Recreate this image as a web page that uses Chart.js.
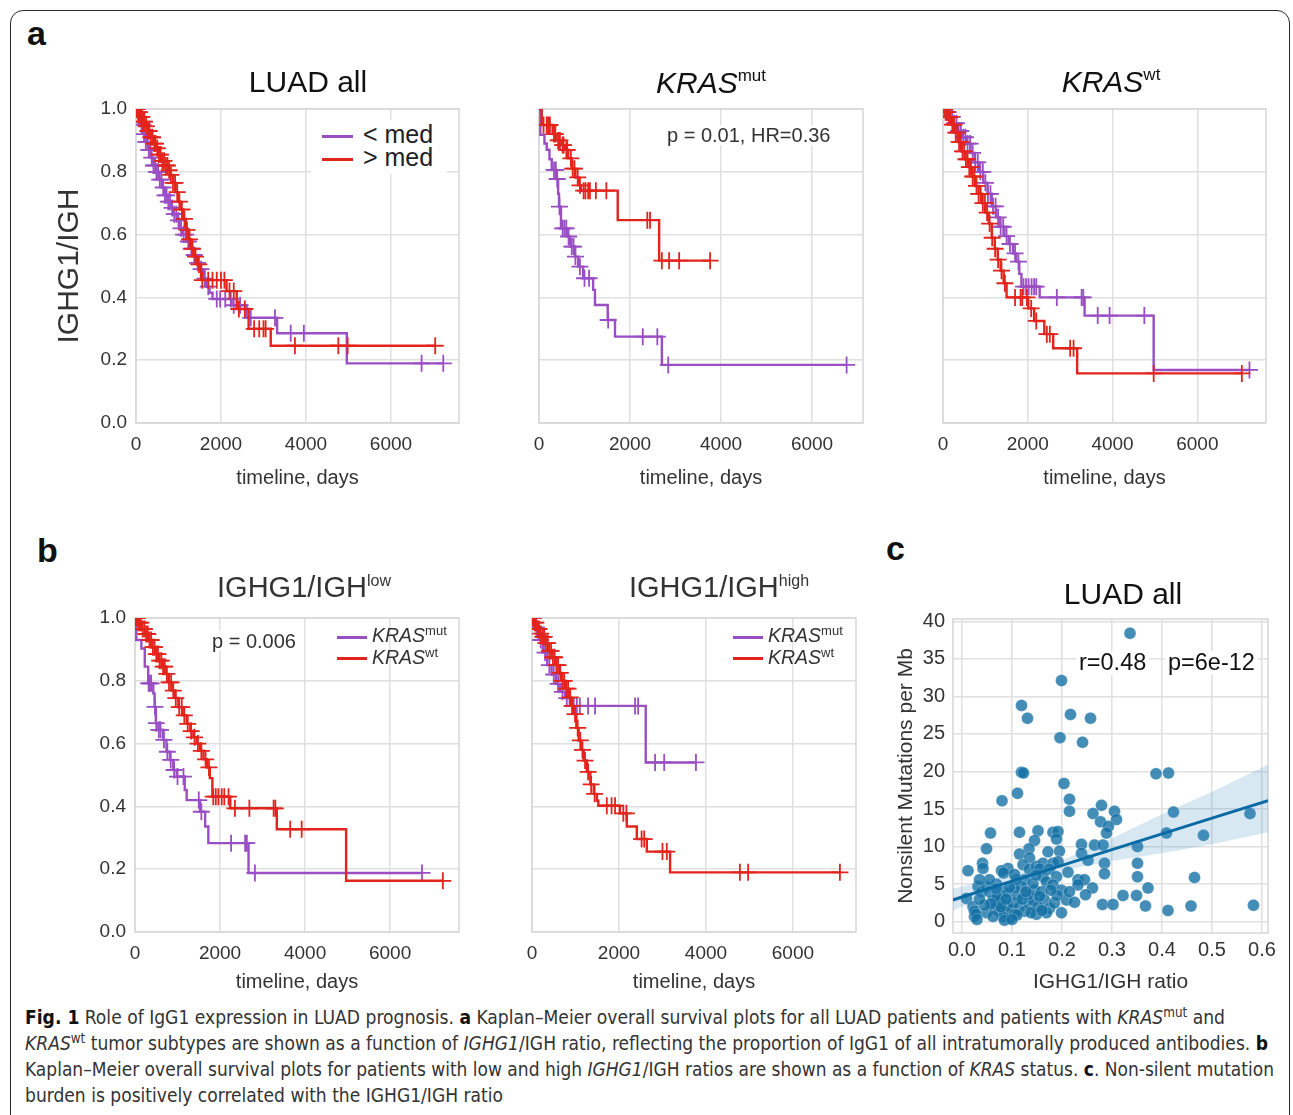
<!DOCTYPE html>
<html lang="en">
<head>
<meta charset="UTF-8" />
<title>Fig. 1 - IgG1 expression in LUAD prognosis</title>
<script src="https://cdn.jsdelivr.net/npm/chart.js"></script>
<style>
  body { margin: 0; background: #fff; }
  #fig { position: relative; width: 1293px; height: 1115px; overflow: hidden; font-family: "Liberation Sans", Arial, sans-serif; color: #222; }
  #fig canvas { position: absolute; }
  .frame { position: absolute; left: 10px; top: 10px; width: 1278px; height: 1200px; border: 1.5px solid #2a2a2a; border-radius: 13px; }
  .txt { position: absolute; white-space: nowrap; line-height: 1; }
  .ctr { transform: translateX(-50%); }
  .plabel { position: absolute; font-weight: bold; font-size: 34px; line-height: 1; color: #111; }
  .note { background: #fff; padding: 0 3px; color: #333; }
  .sw { position: absolute; height: 2.5px; }
  .cap { position: absolute; left: 25px; white-space: nowrap; font-family: "Liberation Sans Narrow", "DejaVu Sans Condensed", "Liberation Sans", sans-serif; font-size: 19px; line-height: 1; color: #333; transform-origin: 0 0; }
  .cap b { color: #111; }
  .cap sup { font-size: 0.7em; line-height: 0; vertical-align: 0.5em; }
</style>
</head>
<body>
<div id="fig">
  <div class="frame"></div>

  <div class="plabel" style="left:27px;top:16px">a</div>
  <div class="plabel" style="left:37px;top:533px">b</div>
  <div class="plabel" style="left:886px;top:531px">c</div>

  <canvas id="a1"></canvas>
  <canvas id="a2"></canvas>
  <canvas id="a3"></canvas>
  <canvas id="b1"></canvas>
  <canvas id="b2"></canvas>
  <canvas id="c1"></canvas>

  <!-- panel titles -->
  <div class="txt ctr" style="left:308px;top:67px;font-size:30px;color:#111">LUAD all</div>
  <div class="txt ctr" style="left:711px;top:68px;font-size:30px;color:#111"><i>KRAS</i><span style="font-size:17px;position:relative;top:-12px">mut</span></div>
  <div class="txt ctr" style="left:1111px;top:67px;font-size:30px;color:#111"><i>KRAS</i><span style="font-size:17px;position:relative;top:-12px">wt</span></div>
  <div class="txt ctr" style="left:304px;top:573px;font-size:29px;color:#333">IGHG1/IGH<span style="font-size:16px;position:relative;top:-11px">low</span></div>
  <div class="txt ctr" style="left:719px;top:573px;font-size:29px;color:#333">IGHG1/IGH<span style="font-size:16px;position:relative;top:-11px">high</span></div>
  <div class="txt ctr" style="left:1123px;top:579px;font-size:30px;color:#111">LUAD all</div>

  <!-- legends -->
  <div style="position:absolute;left:311px;top:120px;width:136px;height:54px;background:#fff"></div>
  <div class="sw" style="left:322px;top:135px;width:31px;background:#9a4ec4"></div>
  <div class="sw" style="left:322px;top:158px;width:31px;background:#e2241c"></div>
  <div class="txt" style="left:363px;top:122px;font-size:25px;color:#222">&lt; med</div>
  <div class="txt" style="left:363px;top:145px;font-size:25px;color:#222">&gt; med</div>

  <div class="sw" style="left:337px;top:636px;width:30px;background:#9a4ec4"></div>
  <div class="sw" style="left:337px;top:657px;width:30px;background:#e2241c"></div>
  <div class="txt" style="left:372px;top:626px;font-size:19.5px;color:#333"><i>KRAS</i><span style="font-size:13px;position:relative;top:-7px">mut</span></div>
  <div class="txt" style="left:372px;top:648px;font-size:19.5px;color:#333"><i>KRAS</i><span style="font-size:13px;position:relative;top:-7px">wt</span></div>

  <div class="sw" style="left:733px;top:636px;width:30px;background:#9a4ec4"></div>
  <div class="sw" style="left:733px;top:657px;width:30px;background:#e2241c"></div>
  <div class="txt" style="left:768px;top:626px;font-size:19.5px;color:#333"><i>KRAS</i><span style="font-size:13px;position:relative;top:-7px">mut</span></div>
  <div class="txt" style="left:768px;top:648px;font-size:19.5px;color:#333"><i>KRAS</i><span style="font-size:13px;position:relative;top:-7px">wt</span></div>

  <!-- statistics -->
  <div class="txt note" style="left:664px;top:125px;font-size:20px">p = 0.01, HR=0.36</div>
  <div class="txt note" style="left:209px;top:631px;font-size:20px">p = 0.006</div>
  <div class="txt note" style="left:1076px;top:651px;font-size:23.5px;color:#111">r=0.48</div>
  <div class="txt note" style="left:1165px;top:651px;font-size:23.5px;color:#111">p=6e-12</div>

  <!-- caption -->
  <div class="cap" data-w="1200" style="top:1008px"><b>Fig. 1</b> Role of IgG1 expression in LUAD prognosis. <b>a</b> Kaplan–Meier overall survival plots for all LUAD patients and patients with <i>KRAS</i><sup>mut</sup> and</div>
  <div class="cap" data-w="1243" style="top:1034px"><i>KRAS</i><sup>wt</sup> tumor subtypes are shown as a function of <i>IGHG1</i>/IGH ratio, reflecting the proportion of IgG1 of all intratumorally produced antibodies. <b>b</b></div>
  <div class="cap" data-w="1249" style="top:1060px">Kaplan–Meier overall survival plots for patients with low and high <i>IGHG1</i>/IGH ratios are shown as a function of <i>KRAS</i> status. <b>c</b>. Non-silent mutation</div>
  <div class="cap" data-w="478" style="top:1086px">burden is positively correlated with the IGHG1/IGH ratio</div>
</div>

<script>
    // ---- tick labels ----
    const KM_X_TICKS = [0, 2000, 4000, 6000];
    const KM_Y_TICKS = [0, 0.2, 0.4, 0.6, 0.8, 1.0];
    const C_X_TICKS = [0, 0.1, 0.2, 0.3, 0.4, 0.5, 0.6];
    const C_Y_TICKS = [0, 5, 10, 15, 20, 25, 30, 35, 40];

    // ---- a: LUAD all, split at median IGHG1/IGH ----
    const a1LowT = [50, 110, 170, 230, 290, 350, 410, 470, 540, 610, 680, 750, 820, 890, 960, 1030, 1100, 1180, 1260, 1340, 1420, 1500, 1580, 1650, 1730, 1800, 2250, 2600, 3320, 4960];
    const a1LowS = [0.975, 0.95, 0.92, 0.895, 0.87, 0.845, 0.82, 0.80, 0.775, 0.75, 0.725, 0.705, 0.685, 0.665, 0.645, 0.62, 0.60, 0.578, 0.555, 0.535, 0.51, 0.49, 0.46, 0.434, 0.415, 0.395, 0.375, 0.335, 0.286, 0.19];
    const a1LowCens = [30, 60, 90, 130, 160, 190, 230, 270, 300, 340, 370, 410, 450, 480, 520, 560, 600, 640, 680, 720, 760, 800, 850, 900, 950, 1000, 1060, 1120, 1170, 1230, 1300, 1370, 1450, 1530, 1620, 1700, 1900, 1980, 2100, 2230, 2300, 2450, 2700, 3270, 3640, 3950, 6720, 7230];
    const a1HighT = [40, 100, 160, 220, 280, 340, 410, 470, 540, 610, 680, 750, 810, 870, 930, 990, 1050, 1110, 1170, 1230, 1300, 1370, 1440, 1530, 2130, 2370, 2650, 3170];
    const a1HighS = [0.99, 0.975, 0.96, 0.945, 0.93, 0.91, 0.89, 0.875, 0.855, 0.835, 0.82, 0.805, 0.79, 0.765, 0.735, 0.705, 0.68, 0.65, 0.615, 0.585, 0.555, 0.53, 0.505, 0.455, 0.42, 0.363, 0.30, 0.246];
    const a1HighCens = [20, 50, 80, 110, 140, 170, 200, 240, 280, 310, 350, 390, 430, 460, 500, 540, 580, 620, 660, 700, 740, 780, 820, 870, 920, 970, 1020, 1080, 1140, 1200, 1260, 1330, 1400, 1480, 1560, 1700, 1800, 1900, 2000, 2080, 2200, 2300, 2420, 2560, 2780, 2900, 3000, 3050, 3740, 4760, 4980, 7040];

    // KRAS mut
    const a2LowT = [30, 120, 170, 230, 280, 380, 420, 440, 483, 610, 680, 790, 860, 970, 1190, 1230, 1510, 1670, 2700];
    const a2LowS = [0.918, 0.89, 0.87, 0.84, 0.806, 0.777, 0.73, 0.689, 0.62, 0.594, 0.562, 0.53, 0.498, 0.461, 0.424, 0.376, 0.328, 0.275, 0.185];
    const a2LowCens = [330, 370, 400, 450, 520, 560, 600, 650, 720, 760, 800, 900, 1000, 1100, 1520, 2280, 2600, 2840, 6760];
    const a2HighT = [60, 300, 380, 500, 570, 640, 720, 800, 870, 920, 1730, 2640];
    const a2HighS = [0.949, 0.92, 0.90, 0.885, 0.87, 0.843, 0.81, 0.782, 0.757, 0.74, 0.646, 0.517];
    const a2HighCens = [100, 170, 200, 240, 330, 360, 420, 460, 520, 540, 600, 620, 700, 740, 780, 850, 900, 980, 1020, 1080, 1120, 1250, 1480, 2380, 2440, 2700, 2860, 3080, 3760];

    // KRAS wt
    const a3LowT = [60, 150, 250, 350, 450, 550, 650, 750, 850, 950, 1050, 1150, 1250, 1350, 1450, 1550, 1650, 1730, 1800, 1850, 2280, 3340, 4970];
    const a3LowS = [0.99, 0.975, 0.955, 0.93, 0.91, 0.89, 0.86, 0.83, 0.80, 0.765, 0.73, 0.69, 0.655, 0.625, 0.595, 0.57, 0.54, 0.514, 0.475, 0.434, 0.40, 0.342, 0.169];
    const a3LowCens = [40, 80, 120, 170, 220, 270, 320, 370, 420, 480, 530, 580, 640, 700, 760, 820, 880, 940, 1000, 1060, 1120, 1180, 1240, 1300, 1360, 1420, 1500, 1580, 1700, 1780, 1900, 1960, 2020, 2090, 2150, 2200, 2685, 3270, 3310, 3650, 3930, 4750, 7230];
    const a3HighT = [50, 120, 200, 280, 360, 440, 520, 600, 680, 760, 840, 920, 1000, 1080, 1150, 1220, 1290, 1360, 1430, 1500, 2010, 2150, 2390, 2600, 3165];
    const a3HighS = [0.99, 0.975, 0.95, 0.925, 0.895, 0.865, 0.84, 0.815, 0.785, 0.755, 0.73, 0.70, 0.67, 0.635, 0.59, 0.555, 0.52, 0.485, 0.445, 0.40, 0.365, 0.325, 0.283, 0.238, 0.158];
    const a3HighCens = [30, 60, 100, 140, 180, 220, 260, 300, 340, 380, 420, 460, 500, 540, 580, 620, 660, 700, 740, 790, 840, 890, 940, 990, 1040, 1100, 1160, 1230, 1300, 1380, 1460, 1700, 1830, 1870, 1980, 2080, 2200, 2450, 2520, 3000, 3080, 4970, 7050];

    // ---- b: IGHG1/IGH low / high, split by KRAS ----
    const b1MutT = [30, 150, 230, 310, 430, 460, 490, 550, 660, 740, 820, 900, 980, 1170, 1215, 1530, 1650, 1725, 2670];
    const b1MutS = [0.93, 0.903, 0.845, 0.792, 0.76, 0.717, 0.665, 0.644, 0.612, 0.574, 0.548, 0.516, 0.495, 0.452, 0.42, 0.383, 0.336, 0.283, 0.188];
    const b1MutCens = [320, 350, 380, 470, 500, 560, 600, 680, 760, 840, 920, 1000, 1140, 1500, 1560, 2260, 2590, 2630, 2820, 6750];
    const b1WtT = [60, 150, 235, 310, 392, 470, 549, 630, 706, 790, 863, 940, 1020, 1120, 1216, 1300, 1373, 1450, 1530, 1610, 1690, 1760, 1820, 2240, 3335, 4965];
    const b1WtS = [0.985, 0.965, 0.949, 0.93, 0.907, 0.885, 0.864, 0.845, 0.822, 0.795, 0.769, 0.745, 0.716, 0.69, 0.663, 0.64, 0.62, 0.60, 0.577, 0.55, 0.524, 0.49, 0.431, 0.394, 0.327, 0.163];
    const b1WtCens = [20, 50, 80, 110, 140, 180, 220, 260, 300, 340, 380, 420, 460, 500, 540, 580, 620, 660, 700, 750, 800, 850, 900, 960, 1040, 1100, 1160, 1240, 1320, 1400, 1480, 1560, 1660, 1740, 1840, 1900, 1960, 2040, 2100, 2200, 2350, 2690, 3260, 3300, 3650, 3920, 7240];

    const b2MutT = [60, 150, 250, 350, 450, 550, 650, 760, 870, 2615];
    const b2MutS = [0.97, 0.93, 0.89, 0.85, 0.82, 0.79, 0.765, 0.745, 0.72, 0.54];
    const b2MutCens = [30, 100, 200, 300, 400, 500, 600, 700, 800, 920, 960, 1030, 1100, 1290, 1450, 2370, 2440, 2830, 3040, 3770];
    const b2WtT = [40, 100, 170, 230, 300, 380, 460, 540, 620, 690, 770, 843, 900, 958, 1020, 1073, 1130, 1188, 1260, 1341, 1420, 1494, 1525, 2020, 2180, 2410, 2640, 3175];
    const b2WtS = [0.985, 0.965, 0.95, 0.94, 0.92, 0.895, 0.875, 0.85, 0.825, 0.80, 0.775, 0.747, 0.72, 0.694, 0.65, 0.61, 0.58, 0.546, 0.51, 0.47, 0.44, 0.418, 0.402, 0.378, 0.336, 0.296, 0.256, 0.19];
    const b2WtCens = [20, 60, 90, 130, 160, 200, 250, 280, 320, 360, 400, 440, 480, 520, 560, 600, 650, 700, 740, 790, 830, 880, 930, 990, 1050, 1110, 1160, 1220, 1290, 1360, 1440, 1720, 1830, 1910, 2100, 2170, 2520, 2580, 3000, 3100, 4780, 4970, 7080];

    // ---- c: mutation burden vs IGHG1/IGH ratio ----
    const cRatio = [0.336, 0.199, 0.119, 0.131, 0.217, 0.257, 0.196, 0.241, 0.119, 0.123, 0.388, 0.413, 0.423, 0.576, 0.483, 0.409, 0.465, 0.458, 0.412, 0.583,
        0.204, 0.080, 0.111, 0.215, 0.215, 0.279, 0.262, 0.305, 0.309, 0.277, 0.293, 0.289, 0.057, 0.115, 0.152, 0.182, 0.192, 0.189, 0.145, 0.049,
        0.134, 0.115, 0.172, 0.195, 0.239, 0.239, 0.265, 0.282, 0.252, 0.285, 0.285, 0.351, 0.351, 0.351, 0.212, 0.135, 0.122, 0.135, 0.149, 0.162,
        0.182, 0.192, 0.155, 0.175, 0.189, 0.092, 0.079, 0.083, 0.041, 0.042, 0.012, 0.125, 0.162, 0.169, 0.182, 0.199, 0.232, 0.245, 0.232, 0.261,
        0.247, 0.209, 0.281, 0.302, 0.322, 0.349, 0.367, 0.372, 0.199, 0.149, 0.025, 0.009, 0.032, 0.039, 0.049, 0.055, 0.022, 0.025, 0.049, 0.062,
        0.072, 0.082, 0.092, 0.075, 0.085, 0.065, 0.075, 0.089, 0.099, 0.082, 0.062, 0.102, 0.112, 0.115, 0.125, 0.135, 0.142, 0.132, 0.145, 0.159,
        0.165, 0.175, 0.169, 0.152, 0.119, 0.105, 0.109, 0.142, 0.069, 0.055, 0.035, 0.070, 0.078, 0.088, 0.095, 0.105, 0.058, 0.045, 0.035, 0.028,
        0.068, 0.095, 0.110, 0.120, 0.128, 0.138, 0.155, 0.160, 0.185, 0.190, 0.178, 0.215, 0.225, 0.105, 0.148, 0.030, 0.085, 0.100];
    const cMutations = [38.4, 32.1, 28.8, 27.1, 27.6, 27.1, 24.5, 23.9, 19.9, 19.8, 19.7, 19.8, 14.6, 14.4, 11.5, 11.8, 5.9, 2.1, 1.5, 2.2,
        18.4, 16.1, 17.1, 16.3, 14.7, 15.5, 14.4, 14.7, 13.6, 13.3, 12.7, 11.8, 11.8, 11.9, 12.1, 11.9, 12.0, 11.0, 10.8, 9.7,
        9.7, 9.0, 9.3, 9.4, 10.3, 9.1, 10.2, 10.2, 8.2, 7.8, 6.4, 10.0, 7.8, 6.0, 6.6, 8.5, 7.6, 7.0, 7.4, 7.8,
        7.8, 8.0, 7.0, 7.0, 6.0, 7.1, 6.8, 6.5, 7.8, 7.1, 6.8, 5.6, 6.0, 5.3, 4.9, 4.2, 5.6, 5.6, 4.9, 4.5,
        3.6, 2.9, 2.3, 2.3, 3.5, 3.5, 2.1, 4.5, 1.2, 1.0, 0.7, 3.1, 4.7, 4.0, 4.7, 4.0, 2.0, 1.4, 1.2, 2.9,
        3.8, 4.0, 3.8, 2.7, 2.3, 1.8, 1.4, 1.2, 1.6, 0.7, 0.7, 2.5, 3.4, 2.0, 1.4, 2.3, 2.9, 3.6, 4.2, 4.0,
        2.9, 1.8, 1.2, 2.0, 4.7, 4.5, 5.6, 5.1, 5.0, 5.6, 5.6, 3.2, 2.0, 3.0, 0.5, 1.0, 2.4, 2.2, 3.0, 1.0,
        4.4, 4.6, 0.9, 3.0, 4.0, 1.2, 3.4, 1.5, 2.5, 3.5, 4.2, 4.0, 2.6, 6.3, 6.2, 0.3, 0.2, 0.3];
    // fitted line and confidence band
    const cFitX = [-0.018, 0.1, 0.2, 0.3, 0.4, 0.5, 0.612];
    const cFitY = [2.9, 5.4, 7.5, 9.6, 11.7, 13.8, 16.1];
    const cBandHi = [4.4, 6.4, 8.2, 11.1, 14.3, 17.3, 20.9];
    const cBandLo = [1.5, 4.6, 6.8, 8.1, 9.1, 10.3, 11.9];

    const PURPLE = '#9a4ec4';
    const RED = '#e2241c';
    const GRID = '#e0e0e0';
    const PAD = 24;

    Chart.defaults.font.family = '"Liberation Sans", Arial, sans-serif';
    Chart.defaults.color = '#333';

    // plot area boxes (page pixels) and axis sizes
    const boxes = {
        a1: { L: 136, T: 109, R: 459, B: 423, yW: 84, xH: 67 },
        a2: { L: 539, T: 109, R: 863, B: 423, yW: 24, xH: 67 },
        a3: { L: 943, T: 109, R: 1266, B: 423, yW: 24, xH: 67 },
        b1: { L: 135, T: 618, R: 459, B: 932, yW: 50, xH: 62 },
        b2: { L: 532, T: 618, R: 856, B: 932, yW: 24, xH: 62 },
        c1: { L: 953, T: 619, R: 1268, B: 933, yW: 59, xH: 62 }
    };

    const spines = {
        id: 'spines',
        beforeDatasetsDraw(chart) {
            const { ctx, chartArea: a } = chart;
            ctx.save();
            ctx.strokeStyle = '#d6d6d6';
            ctx.lineWidth = 1.5;
            ctx.strokeRect(a.left, a.top, a.right - a.left, a.bottom - a.top);
            ctx.restore();
        }
    };

    function placeCanvas(id) {
        const b = boxes[id];
        const c = document.getElementById(id);
        const w = b.R - b.L + b.yW + PAD;
        const h = b.B - b.T + PAD + b.xH;
        c.width = w; c.height = h;
        c.style.width = w + 'px'; c.style.height = h + 'px';
        c.style.left = (b.L - b.yW) + 'px';
        c.style.top = (b.T - PAD) + 'px';
        return c;
    }

    // survival level of a step curve at time t
    function survAt(ts, ss, t) {
        let s = 1;
        for (let i = 0; i < ts.length; i++) if (ts[i] <= t) s = ss[i];
        return s;
    }

    function kmChart(id, xMax, curves, yTitle) {
        const b = boxes[id];
        const datasets = [];
        curves.forEach(c => {
            const last = c.s[c.s.length - 1];
            const end = Math.max(c.t[c.t.length - 1], c.cens[c.cens.length - 1]);
            const pts = [{ x: 0, y: 1 }]
                .concat(c.t.map((t, i) => ({ x: t, y: c.s[i] })))
                .concat([{ x: end, y: last }]);
            datasets.push({
                type: 'line', data: pts, stepped: true, borderColor: c.color,
                borderWidth: 2.4, pointRadius: 0, fill: false
            });
            datasets.push({
                type: 'scatter', data: c.cens.map(t => ({ x: t, y: survAt(c.t, c.s, t) })),
                pointStyle: 'cross', pointRadius: 8.5, borderColor: c.color, borderWidth: 1.8
            });
        });

        new Chart(placeCanvas(id), {
            type: 'scatter',
            data: { datasets },
            options: {
                responsive: false, devicePixelRatio: 1, animation: false,
                layout: { padding: { top: PAD, right: PAD, left: 0, bottom: 0 } },
                plugins: { legend: { display: false }, tooltip: { enabled: false } },
                scales: {
                    x: {
                        type: 'linear', min: 0, max: xMax,
                        afterBuildTicks: s => { s.ticks = KM_X_TICKS.map(v => ({ value: v })); },
                        afterFit: s => { s.height = b.xH; },
                        ticks: { font: { size: 19 }, padding: 10, maxRotation: 0, autoSkip: false, callback: v => String(v) },
                        grid: { color: GRID, lineWidth: 1.5, drawTicks: false },
                        border: { display: false },
                        title: { display: true, text: 'timeline, days', font: { size: 20 }, padding: 0 }
                    },
                    y: {
                        type: 'linear', min: 0, max: 1,
                        afterBuildTicks: s => { s.ticks = KM_Y_TICKS.map(v => ({ value: v })); },
                        afterFit: s => { s.width = b.yW; },
                        ticks: { display: b.yW > 30, font: { size: 19 }, padding: 9, callback: v => v.toFixed(1) },
                        grid: { color: GRID, lineWidth: 1.5, drawTicks: false },
                        border: { display: false },
                        title: { display: !!yTitle, text: yTitle || '', font: { size: 30 }, padding: 0 }
                    }
                }
            },
            plugins: [spines]
        });
    }

    kmChart('a1', 7600, [
        { t: a1HighT, s: a1HighS, cens: a1HighCens, color: RED },
        { t: a1LowT, s: a1LowS, cens: a1LowCens, color: PURPLE }
    ], 'IGHG1/IGH');
    kmChart('a2', 7120, [
        { t: a2HighT, s: a2HighS, cens: a2HighCens, color: RED },
        { t: a2LowT, s: a2LowS, cens: a2LowCens, color: PURPLE }
    ]);
    kmChart('a3', 7620, [
        { t: a3HighT, s: a3HighS, cens: a3HighCens, color: RED },
        { t: a3LowT, s: a3LowS, cens: a3LowCens, color: PURPLE }
    ]);
    kmChart('b1', 7620, [
        { t: b1WtT, s: b1WtS, cens: b1WtCens, color: RED },
        { t: b1MutT, s: b1MutS, cens: b1MutCens, color: PURPLE }
    ]);
    kmChart('b2', 7450, [
        { t: b2WtT, s: b2WtS, cens: b2WtCens, color: RED },
        { t: b2MutT, s: b2MutS, cens: b2MutCens, color: PURPLE }
    ]);

    // scatter + regression
    const cb = boxes.c1;
    new Chart(placeCanvas('c1'), {
        type: 'scatter',
        data: {
            datasets: [
                { type: 'line', data: cFitX.map((x, i) => ({ x, y: cFitY[i] })), borderColor: '#0a6aa4', borderWidth: 3, pointRadius: 0, fill: false },
                { type: 'line', data: cFitX.map((x, i) => ({ x, y: cBandHi[i] })), borderWidth: 0, pointRadius: 0, backgroundColor: 'rgba(60,140,195,0.2)', fill: '+1' },
                { type: 'line', data: cFitX.map((x, i) => ({ x, y: cBandLo[i] })), borderWidth: 0, pointRadius: 0, fill: false },
                {
                    data: cRatio.map((x, i) => ({ x, y: cMutations[i] })),
                    pointRadius: 6, backgroundColor: 'rgba(20,112,165,0.8)',
                    borderColor: 'rgba(255,255,255,0.35)', borderWidth: 0.8
                }
            ]
        },
        options: {
            responsive: false, devicePixelRatio: 1, animation: false,
            layout: { padding: { top: PAD, right: PAD, left: 0, bottom: 0 } },
            plugins: { legend: { display: false }, tooltip: { enabled: false } },
            scales: {
                x: {
                    type: 'linear', min: -0.018, max: 0.612,
                    afterBuildTicks: s => { s.ticks = C_X_TICKS.map(v => ({ value: v })); },
                    afterFit: s => { s.height = cb.xH; },
                    ticks: { font: { size: 20 }, padding: 5, maxRotation: 0, autoSkip: false, callback: v => v.toFixed(1) },
                    grid: { color: GRID, lineWidth: 1.5, drawTicks: false },
                    border: { display: false },
                    title: { display: true, text: 'IGHG1/IGH ratio', font: { size: 21 }, padding: 0 }
                },
                y: {
                    type: 'linear', min: -1.5, max: 40.3,
                    afterBuildTicks: s => { s.ticks = C_Y_TICKS.map(v => ({ value: v })); },
                    afterFit: s => { s.width = cb.yW; },
                    ticks: { font: { size: 20 }, padding: 8, callback: v => String(v) },
                    grid: { color: GRID, lineWidth: 1.5, drawTicks: false },
                    border: { display: false },
                    title: { display: true, text: 'Nonsilent Mutations per Mb', font: { size: 21 }, padding: 0 }
                }
            }
        },
        plugins: [spines]
    });

    // fit caption lines to their widths in the figure
    document.querySelectorAll('.cap').forEach(el => {
        const w = el.getBoundingClientRect().width;
        el.style.transform = 'scaleX(' + (Number(el.dataset.w) / w) + ')';
    });
</script>
</body>
</html>
